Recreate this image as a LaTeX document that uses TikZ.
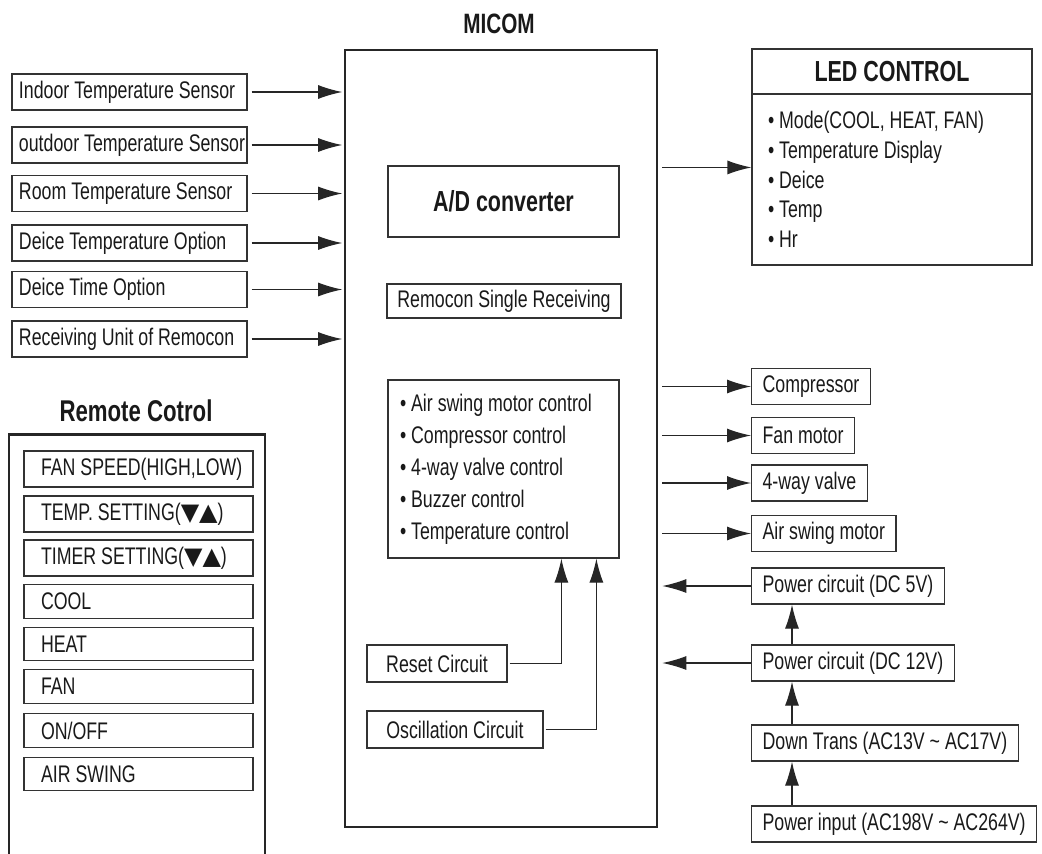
\documentclass[tikz,border=0pt]{standalone}
\usepackage{fontspec}
\setmainfont{Liberation Sans}[FakeStretch=0.74]
\newfontfamily\symfont{DejaVu Sans}
\usetikzlibrary{arrows.meta}
\usetikzlibrary{calc}

\begin{document}
\begin{tikzpicture}[x=1pt, y=-1pt,
		every node/.style={inner sep=0pt, text=black!90, font=\fontsize{24}{29}\selectfont},
		box/.style={draw=black!80, line width=1.2pt, minimum height=36pt},
		bigbox/.style={draw=black!85, line width=2.6pt},
		inbox/.style={box, text width=221pt, inner xsep=7pt, align=flush left},
		outbox/.style={box, anchor=west, inner xsep=11pt},
		btn/.style={box, text width=195pt, inner xsep=17pt, align=flush left, minimum height=33.5pt},
		heading/.style={font=\bfseries\fontsize{29}{34}\selectfont},
		arr/.style={draw=black!85, line width=1.2pt, -{Latex[length=24pt, width=14pt]}}]
				\useasboundingbox (0,0) rectangle (1042,854);
				% MICOM
				\node[heading, font=\bfseries\fontsize{28}{34}\selectfont] (micomtitle) at (499,24) {MICOM};
				\node[bigbox, minimum width=312pt, minimum height=777pt] (micom) at (501,438.5) {};
				\node[box, heading, minimum width=231pt, minimum height=71pt] (adc) at (503.5,201.5) {A/D converter};
				\node[box, minimum width=234pt, minimum height=34pt] (remocon) at (504,301) {Remocon Single Receiving};
				\node[box, text width=207pt, inner xsep=12pt, align=flush left, minimum height=178pt, font=\fontsize{24}{32}\selectfont] (ctrl) at (503.5,469) {\textbullet\ Air swing motor control\\ \textbullet\ Compressor control\\ \textbullet\ 4-way valve control\\ \textbullet\ Buzzer control\\ \textbullet\ Temperature control};
				\node[box, minimum width=140pt, minimum height=37pt] (reset) at (437,663.5) {Reset Circuit};
				\node[box, minimum width=176pt, minimum height=37pt] (osc) at (455,729.5) {Oscillation Circuit};
				\coordinate (rsin) at ($(ctrl.south west)+(174,0)$);
				\coordinate (osin) at ($(ctrl.south west)+(209,0)$);
				\draw[arr, shorten <=2pt] (reset.east) -| (rsin);
				\draw[arr, shorten <=2pt] (osc.east) -| (osin);
				% inputs
				\node[inbox] (indoor) at (129.5,92) {\mbox{Indoor Temperature Sensor}};
				\node[inbox] (outdoor) at (129.5,145) {\mbox{outdoor Temperature Sensor}};
				\node[inbox] (room) at (129.5,193.5) {\mbox{Room Temperature Sensor}};
				\node[inbox] (deicetemp) at (129.5,243) {\mbox{Deice Temperature Option}};
				\node[inbox] (deicetime) at (129.5,289.5) {\mbox{Deice Time Option}};
				\node[inbox] (recv) at (129.5,339) {\mbox{Receiving Unit of Remocon}};
				\draw[arr, shorten <=4pt, shorten >=1.5pt] (indoor.east) -- (indoor.east -| micom.west);
				\draw[arr, shorten <=4pt, shorten >=1.5pt] (outdoor.east) -- (outdoor.east -| micom.west);
				\draw[arr, shorten <=4pt, shorten >=1.5pt] (room.east) -- (room.east -| micom.west);
				\draw[arr, shorten <=4pt, shorten >=1.5pt] (deicetemp.east) -- (deicetemp.east -| micom.west);
				\draw[arr, shorten <=4pt, shorten >=1.5pt] (deicetime.east) -- (deicetime.east -| micom.west);
				\draw[arr, shorten <=4pt, shorten >=1.5pt] (recv.east) -- (recv.east -| micom.west);
				% LED control
				\node[box, heading, minimum width=280pt, minimum height=45pt] (ledhead) at (892,71.5) {LED CONTROL};
				\node[box, text width=248pt, inner xsep=16pt, align=flush left, minimum height=171pt, font=\fontsize{24}{29.7}\selectfont] (ledbody) at (892,179.5) {\textbullet\ Mode(COOL, HEAT, FAN)\\ \textbullet\ Temperature Display\\ \textbullet\ Deice\\ \textbullet\ Temp\\ \textbullet\ Hr};
				\coordinate (ledin) at ($(ledbody.north west)!0.43!(ledbody.south west)$);
				\draw[arr, shorten <=4pt] (micom.east |- ledin) -- (ledin);
				% outputs and power
				\node[outbox] (comp) at (751,386.5) {Compressor};
				\node[outbox] (fan) at (751,435.5) {Fan motor};
				\node[outbox] (valve) at (751,483) {4-way valve};
				\node[outbox] (swing) at (751,533.5) {Air swing motor};
				\node[outbox] (dc5) at (751,586) {Power circuit (DC 5V)};
				\node[outbox] (dc12) at (751,663) {Power circuit (DC 12V)};
				\node[outbox] (down) at (751,743) {Down Trans (AC13V \textasciitilde\ AC17V)};
				\node[outbox] (pin) at (751,824) {Power input (AC198V \textasciitilde\ AC264V)};
				\draw[arr, shorten <=4pt] (micom.east |- comp.west) -- (comp.west);
				\draw[arr, shorten <=4pt] (micom.east |- fan.west) -- (fan.west);
				\draw[arr, shorten <=4pt] (micom.east |- valve.west) -- (valve.west);
				\draw[arr, shorten <=4pt] (micom.east |- swing.west) -- (swing.west);
				\draw[arr, shorten >=4pt] (dc5.west) -- (dc5.west -| micom.east);
				\draw[arr, shorten >=4pt] (dc12.west) -- (dc12.west -| micom.east);
				\draw[arr] ($(pin.north west)+(41,0)$) -- ($(down.south west)+(41,0)$);
				\draw[arr] ($(down.north west)+(41,0)$) -- ($(dc12.south west)+(41,0)$);
				\draw[arr] ($(dc12.north west)+(41,0)$) -- ($(dc5.south west)+(41,0)$);
				% remote control
				\node[heading, font=\bfseries\fontsize{30}{36}\selectfont] (remotetitle) at (136,411) {Remote Cotrol};
				\node[bigbox, minimum width=256pt, minimum height=450pt, anchor=north] (remote) at (137,433) {};
				\node[btn, minimum height=36pt] (fanspeed) at (138.5,469) {\mbox{FAN SPEED(HIGH,LOW)}};
				\node[btn, minimum height=36pt] (tempset) at (138.5,514) {\mbox{TEMP. SETTING({\symfont ▼▲})}};
				\node[btn, minimum height=36pt] (timerset) at (138.5,558) {\mbox{TIMER SETTING({\symfont ▼▲})}};
				\node[btn] (cool) at (138.5,601.5) {COOL};
				\node[btn] (heat) at (138.5,644) {HEAT};
				\node[btn] (fanmode) at (138.5,686.5) {FAN};
				\node[btn] (onoff) at (138.5,730.5) {ON/OFF};
				\node[btn] (airswing) at (138.5,774) {AIR SWING};
		\end{tikzpicture}
\end{document}
